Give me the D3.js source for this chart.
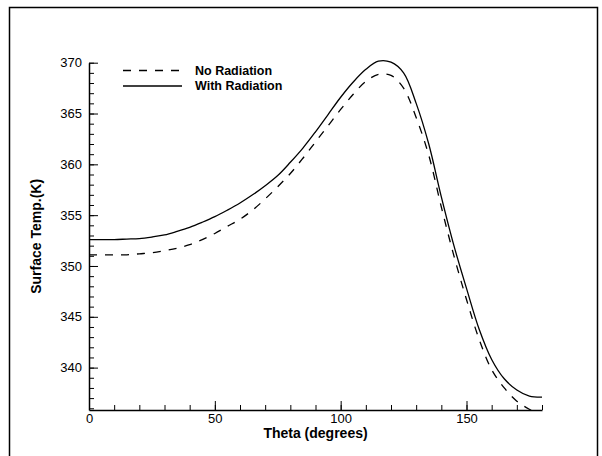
<!DOCTYPE html>
<html lang="en">
<head>
    <meta charset="UTF-8">
    <title>Surface Temperature vs Theta</title>
    <script src="https://d3js.org/d3.v7.min.js"></script>
    <style>
        html, body {
            margin: 0;
            padding: 0;
            background: #fff;
        }
        svg {
            display: block;
            font-family: "Liberation Sans", Arial, sans-serif;
        }
        .axis path, .axis line {
            stroke: #000;
        }
        .axis text {
            font-size: 13px;
            fill: #000;
        }
    </style>
</head>
<body>
    <svg id="chart" width="602" height="456"></svg>

    <script>
        // angle in degrees
        const theta = [0, 5, 10, 15, 20, 25, 30, 35, 40, 45, 50, 55, 60, 65, 70, 75, 80, 85, 90,
            95, 100, 105, 110, 115, 120, 125, 130, 135, 140, 145, 150, 155, 160, 165, 170, 175, 180];

        const noRadiation = [351.1, 351.1, 351.1, 351.1, 351.2, 351.3, 351.5, 351.75, 352.1, 352.6,
            353.2, 353.9, 354.6, 355.5, 356.6, 357.8, 359.1, 360.6, 362.2, 363.8, 365.4, 366.9,
            368.15, 368.85, 368.75, 367.5, 364.6, 360.9, 355.8, 351.0, 346.7, 342.8, 339.8, 338.0,
            336.7, 335.9, 335.3];

        const withRadiation = [352.6, 352.6, 352.6, 352.65, 352.7, 352.85, 353.05, 353.4, 353.8, 354.3,
            354.85, 355.5, 356.2, 357.0, 357.9, 358.9, 360.2, 361.6, 363.2, 364.9, 366.6, 368.1,
            369.35, 370.15, 370.05, 369.0, 366.0, 362.0, 356.8, 352.0, 347.8, 343.8, 340.8, 338.9,
            337.8, 337.2, 337.1];

        const xMajor = [0, 50, 100, 150];
        const xMinor = d3.range(0, 181, 10);
        const yMajor = [340, 345, 350, 355, 360, 365, 370];
        const yMinor = d3.range(336, 371, 1);

        const seriesNames = ["No Radiation", "With Radiation"];

        const svg = d3.select("#chart");

        const plotLeft = 89, plotRight = 542, plotTop = 62.7, plotBottom = 410;

        const x = d3.scaleLinear().domain([0, 180]).range([plotLeft, plotRight]);
        const y = d3.scaleLinear().domain([335.83, 370]).range([plotBottom, plotTop]);

        // outer frame
        svg.append("rect")
            .attr("x", 9.5).attr("y", 7.5)
            .attr("width", 588).attr("height", 460)
            .attr("fill", "none")
            .attr("stroke", "#000")
            .attr("stroke-width", 1.5);

        svg.append("clipPath").attr("id", "plotClip")
            .append("rect")
            .attr("x", plotLeft).attr("y", 0)
            .attr("width", plotRight - plotLeft).attr("height", plotBottom);

        // minor ticks first
        svg.append("g")
            .attr("class", "axis")
            .attr("transform", `translate(0,${plotBottom})`)
            .call(d3.axisBottom(x).tickValues(xMinor).tickSize(-5).tickFormat(""))
            .call(g => g.select(".domain").remove());

        svg.append("g")
            .attr("class", "axis")
            .attr("transform", `translate(${plotLeft},0)`)
            .call(d3.axisLeft(y).tickValues(yMinor).tickSize(-5).tickFormat(""))
            .call(g => g.select(".domain").remove());

        // major ticks with labels
        svg.append("g")
            .attr("class", "axis")
            .attr("transform", `translate(0,${plotBottom})`)
            .call(d3.axisBottom(x).tickValues(xMajor).tickSizeInner(-9).tickSizeOuter(0).tickPadding(4))
            .call(g => g.select(".domain").attr("stroke-width", 1.5));

        svg.append("g")
            .attr("class", "axis")
            .attr("transform", `translate(${plotLeft},0)`)
            .call(d3.axisLeft(y).tickValues(yMajor).tickSizeInner(-9).tickSizeOuter(0).tickPadding(7))
            .call(g => g.select(".domain").attr("stroke-width", 1.5));

        svg.selectAll(".axis .tick line").attr("stroke-width", 1);

        // axis titles
        svg.append("text")
            .attr("x", (plotLeft + plotRight) / 2)
            .attr("y", 438)
            .attr("text-anchor", "middle")
            .attr("font-size", 14)
            .attr("font-weight", "bold")
            .text("Theta (degrees)");

        svg.append("text")
            .attr("transform", `translate(40.5,${(plotTop + plotBottom) / 2}) rotate(-90)`)
            .attr("text-anchor", "middle")
            .attr("font-size", 14)
            .attr("font-weight", "bold")
            .text("Surface Temp.(K)");

        // curves
        const line = d3.line()
            .x((d, i) => x(theta[i]))
            .y(d => y(d))
            .curve(d3.curveCatmullRom.alpha(0.5));

        const plot = svg.append("g").attr("clip-path", "url(#plotClip)");

        plot.append("path")
            .datum(noRadiation)
            .attr("d", line)
            .attr("fill", "none")
            .attr("stroke", "#000")
            .attr("stroke-width", 1.3)
            .attr("stroke-dasharray", "8,8");

        plot.append("path")
            .datum(withRadiation)
            .attr("d", line)
            .attr("fill", "none")
            .attr("stroke", "#000")
            .attr("stroke-width", 1.3);

        // legend
        const legend = svg.append("g");
        const dashes = ["8,8", null];
        seriesNames.forEach((name, i) => {
            const ly = 70.5 + i * 15.5;
            legend.append("line")
                .attr("x1", 123).attr("x2", 182)
                .attr("y1", ly).attr("y2", ly)
                .attr("stroke", "#000")
                .attr("stroke-width", 1.3)
                .attr("stroke-dasharray", dashes[i]);
            legend.append("text")
                .attr("x", 195)
                .attr("y", ly + 4)
                .attr("font-size", 12.5)
                .attr("font-weight", "bold")
                .text(name);
        });
    </script>
</body>
</html>
